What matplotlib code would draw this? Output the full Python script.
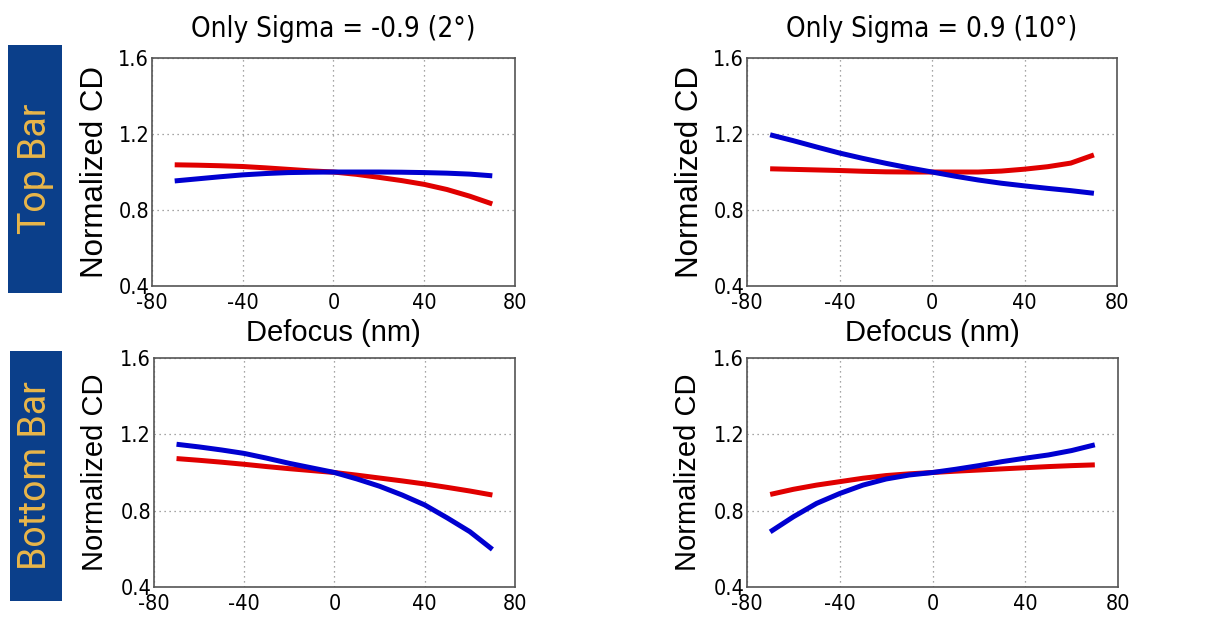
import matplotlib
matplotlib.use("Agg")
from matplotlib import pyplot as plt
from matplotlib.patches import Rectangle

plt.rcParams["axes.unicode_minus"] = False

# defocus sample points (nm)
defocus = [-70, -60, -50, -40, -30, -20, -10, 0, 10, 20, 30, 40, 50, 60, 70]

# Top Bar, sigma = -0.9
top_left_red = [1.038, 1.036, 1.033, 1.029, 1.022, 1.014, 1.006, 1.0, 0.988, 0.972, 0.955, 0.935, 0.908, 0.873, 0.832]
top_left_blue = [0.953, 0.964, 0.975, 0.985, 0.992, 0.997, 0.999, 1.0, 1.0, 1.0, 0.999, 0.997, 0.994, 0.989, 0.98]

# Top Bar, sigma = 0.9
top_right_red = [1.017, 1.014, 1.011, 1.008, 1.004, 1.001, 1.0, 1.0, 1.0, 1.0, 1.005, 1.015, 1.028, 1.047, 1.09]
top_right_blue = [1.196, 1.165, 1.132, 1.1, 1.072, 1.046, 1.022, 1.0, 0.978, 0.958, 0.941, 0.927, 0.914, 0.902, 0.888]

# Bottom Bar, sigma = -0.9
bottom_left_red = [1.073, 1.064, 1.054, 1.043, 1.031, 1.02, 1.01, 1.0, 0.986, 0.971, 0.956, 0.94, 0.922, 0.903, 0.882]
bottom_left_blue = [1.148, 1.134, 1.118, 1.1, 1.075, 1.048, 1.024, 1.0, 0.966, 0.928, 0.882, 0.83, 0.762, 0.69, 0.597]

# Bottom Bar, sigma = 0.9
bottom_right_red = [0.885, 0.912, 0.934, 0.952, 0.97, 0.984, 0.993, 1.0, 1.007, 1.013, 1.019, 1.025, 1.031, 1.036, 1.04]
bottom_right_blue = [0.689, 0.768, 0.838, 0.89, 0.934, 0.966, 0.987, 1.0, 1.017, 1.036, 1.057, 1.075, 1.092, 1.115, 1.145]

x_ticks = [-80, -40, 0, 40, 80]
y_ticks = [0.4, 0.8, 1.2, 1.6]
y_tick_labels = ["0.4", "0.8", "1.2", "1.6"]
titles = ["Only Sigma = -0.9 (2°)", "Only Sigma = 0.9 (10°)"]
row_labels = ["Top Bar", "Bottom Bar"]

plain = ["Liberation Sans", "DejaVu Sans"]

fig = plt.figure(figsize=(12.2, 6.2), dpi=100)

panels = [
    ([0.1246, 0.5387, 0.2975, 0.3677], top_left_red, top_left_blue),
    ([0.6123, 0.5387, 0.3033, 0.3677], top_right_red, top_right_blue),
    ([0.1262, 0.0532, 0.2959, 0.3694], bottom_left_red, bottom_left_blue),
    ([0.6123, 0.0532, 0.3041, 0.3694], bottom_right_red, bottom_right_blue),
]

for i, (rect, red, blue) in enumerate(panels):
    ax = fig.add_axes(rect)
    ax.plot(defocus, red, color="#e00000", lw=3.6, solid_capstyle="butt", zorder=3)
    ax.plot(defocus, blue, color="#0000d0", lw=3.6, solid_capstyle="butt", zorder=4)
    ax.set_xlim(-80, 80)
    ax.set_ylim(0.4, 1.6)
    ax.set_xticks(x_ticks)
    ax.set_yticks(y_ticks)
    ax.set_yticklabels(y_tick_labels)
    ax.grid(True, linestyle=(0, (1, 3)), color="#888888", lw=0.9)
    ax.tick_params(direction="in", length=0, labelsize=15.5)
    ax.tick_params(axis="x", pad=5)
    ax.tick_params(axis="y", pad=2)
    for lab in ax.get_xticklabels() + ax.get_yticklabels():
        lab.set_family("DejaVu Sans")
        lab.set_stretch("condensed")
    for sp in ax.spines.values():
        sp.set_color("#555555")
        sp.set_linewidth(1.2)
    if i < 2:
        ax.set_ylabel("Normalized CD", fontsize=22.5, family=plain, labelpad=6)
        ax.set_title(titles[i], fontsize=20, family="DejaVu Sans", stretch="condensed", pad=15)
        ax.set_xlabel("Defocus (nm)", fontsize=21, family=plain, labelpad=4)
    else:
        ax.set_ylabel("Normalized CD", fontsize=21, family=plain, labelpad=8)

# row labels in navy boxes
boxes = [(8 / 1220, 1 - 293 / 620, 54 / 1220, 248 / 620),
         (10 / 1220, 1 - 601 / 620, 52 / 1220, 250 / 620)]
for (bx, by, bw, bh), label in zip(boxes, row_labels):
    fig.patches.append(Rectangle((bx, by), bw, bh, transform=fig.transFigure,
                                 facecolor="#0b3f8a", edgecolor="none"))
    fig.text(bx + bw / 2, by + bh / 2, label, rotation=90, ha="center", va="center",
             color="#e9b64a", fontsize=27, family=["Roboto", "DejaVu Sans"])

fig.savefig("out.png", dpi=100)
